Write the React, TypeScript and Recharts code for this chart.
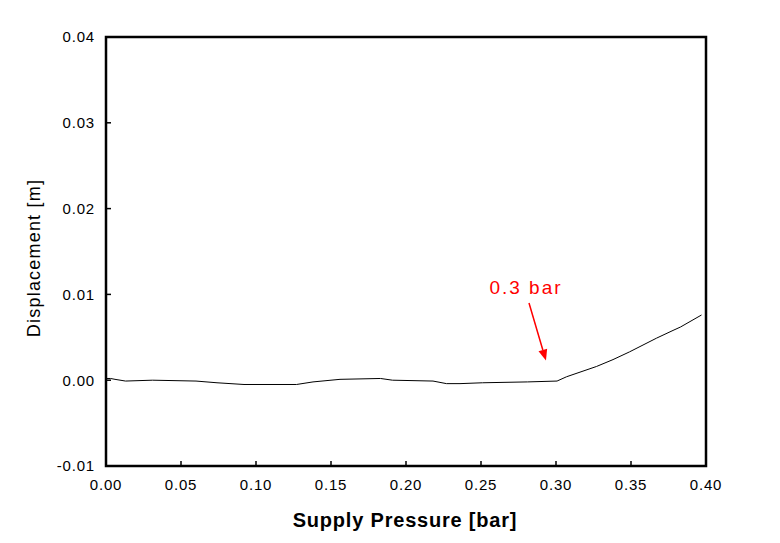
import React from 'react';
import {
  LineChart,
  Line,
  XAxis,
  YAxis,
  ReferenceArea,
  ReferenceLine,
  ReferenceDot,
} from 'recharts';

const pressure = [
  0, 0.003, 0.006, 0.013, 0.031, 0.06, 0.074, 0.092, 0.127, 0.138, 0.156, 0.183,
  0.191, 0.218, 0.227, 0.236, 0.251, 0.281, 0.3007, 0.307, 0.327, 0.338, 0.349,
  0.367, 0.378, 0.383, 0.397,
];
const displacement = [
  0.0002, 0.0002, 0.0001, -0.0001, 0.0, -0.0001, -0.0003, -0.0005, -0.0005, -0.0002,
  0.0001, 0.0002, 0.0, -0.0001, -0.0004, -0.0004, -0.0003, -0.0002, -0.0001, 0.0004,
  0.0016, 0.0024, 0.0033, 0.0049, 0.0058, 0.0062, 0.0076,
];

const xTicks = [0, 0.05, 0.1, 0.15, 0.2, 0.25, 0.3, 0.35, 0.4];
const yTicks = [-0.01, 0, 0.01, 0.02, 0.03, 0.04];

// annotation: label position and arrow (tail -> tip), in data units
const noteText = '0.3 bar';
const notePos = { x: 0.28, y: 0.0101 };
const arrowTail = { x: 0.282, y: 0.009 };
const arrowTip = { x: 0.2933, y: 0.0023 };

const data = pressure.map((p, i) => ({ p, d: displacement[i] }));

const FONT = '"Liberation Sans", Arial, Helvetica, sans-serif';

function Arrow(props: any) {
  const { x1, y1, x2, y2 } = props;
  const ang = Math.atan2(y2 - y1, x2 - x1);
  const len = 11;
  const half = 4.5;
  const bx = x2 - len * Math.cos(ang);
  const by = y2 - len * Math.sin(ang);
  const px = -Math.sin(ang) * half;
  const py = Math.cos(ang) * half;
  return (
    <g>
      <line x1={x1} y1={y1} x2={bx} y2={by} stroke="#ff0000" strokeWidth={1.5} />
      <polygon
        points={`${x2},${y2} ${bx + px},${by + py} ${bx - px},${by - py}`}
        fill="#ff0000"
      />
    </g>
  );
}

export default function App() {
  return (
    <div style={{ position: 'absolute', left: 0, top: 0, background: '#fff' }}>
      <LineChart
        width={780}
        height={543}
        data={data}
        margin={{ top: 37, right: 74, bottom: 47, left: 46 }}
      >
        <XAxis
          dataKey="p"
          type="number"
          domain={[0, 0.4]}
          ticks={xTicks}
          tickFormatter={(v: number) => v.toFixed(2)}
          height={30}
          axisLine={false}
          tickSize={-5}
          tickMargin={18}
          tickLine={{ stroke: '#000', strokeWidth: 1.5 }}
          tick={{ fill: '#000', fontSize: 15, fontFamily: FONT, letterSpacing: 0.8 }}
          label={{
            content: () => (
              <text
                x={405}
                y={527}
                textAnchor="middle"
                fontFamily={FONT}
                fontSize={20}
                fontWeight="bold"
                letterSpacing={0.8}
                fill="#000"
              >
                Supply Pressure [bar]
              </text>
            ),
          }}
        />
        <YAxis
          type="number"
          domain={[-0.01, 0.04]}
          ticks={yTicks}
          tickFormatter={(v: number) => v.toFixed(2)}
          width={60}
          axisLine={false}
          tickSize={-5}
          tickMargin={16}
          tickLine={{ stroke: '#000', strokeWidth: 1.5 }}
          tick={{ fill: '#000', fontSize: 15, fontFamily: FONT, letterSpacing: 0.8 }}
          label={{
            content: () => (
              <text
                x={40}
                y={258}
                transform="rotate(-90 40 258)"
                textAnchor="middle"
                fontFamily={FONT}
                fontSize={18}
                letterSpacing={1.2}
                fill="#000"
              >
                Displacement [m]
              </text>
            ),
          }}
        />
        <ReferenceArea
          x1={0}
          x2={0.4}
          y1={-0.01}
          y2={0.04}
          fill="none"
          stroke="#000"
          strokeWidth={2.5}
          ifOverflow="visible"
        />
        <Line
          type="linear"
          dataKey="d"
          stroke="#000"
          strokeWidth={1}
          dot={false}
          isAnimationActive={false}
        />
        <ReferenceLine
          segment={[arrowTail, arrowTip]}
          stroke="#ff0000"
          shape={Arrow}
          ifOverflow="visible"
        />
        <ReferenceDot
          x={notePos.x}
          y={notePos.y}
          r={0}
          ifOverflow="visible"
          shape={(p: any) => (
            <text
              x={p.cx}
              y={p.cy}
              textAnchor="middle"
              fontFamily={FONT}
              fontSize={19}
              letterSpacing={2}
              fill="#ff0000"
            >
              {noteText}
            </text>
          )}
        />
      </LineChart>
    </div>
  );
}
